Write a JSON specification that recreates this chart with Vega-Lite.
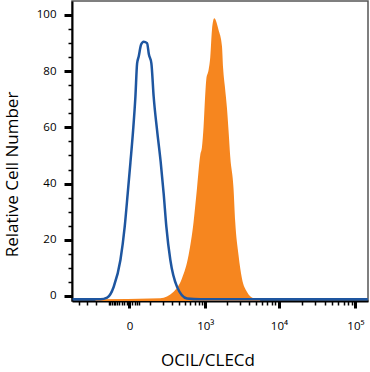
{
  "$schema": "https://vega.github.io/schema/vega-lite/v6.json",
  "width": 296,
  "height": 300,
  "autosize": "none",
  "padding": {"left": 72, "top": 1, "right": 2, "bottom": 71},
  "config": {
    "view": {"stroke": "#555555", "strokeWidth": 1.5},
    "font": "Open Sans",
    "axis": {"grid": false}
  },
  "datasets": {
    "control": [
      {"x": -517, "y": -1.2}, {"x": -158.7, "y": -1.2}, {"x": -109, "y": -0.6},
      {"x": -68.9, "y": 3.3}, {"x": -35.5, "y": 12.8}, {"x": -17.4, "y": 24.7},
      {"x": -6, "y": 36.5}, {"x": 3.5, "y": 47.5}, {"x": 13.5, "y": 59},
      {"x": 22.6, "y": 70.9}, {"x": 29.8, "y": 82.8}, {"x": 36.9, "y": 85.2},
      {"x": 48.2, "y": 89.5}, {"x": 61.3, "y": 90.5}, {"x": 80.2, "y": 90},
      {"x": 91, "y": 86}, {"x": 107, "y": 82.8}, {"x": 122.8, "y": 70.9},
      {"x": 148.2, "y": 59}, {"x": 178.1, "y": 47.8}, {"x": 205.6, "y": 36.5},
      {"x": 232.6, "y": 24.7}, {"x": 276.8, "y": 12.8}, {"x": 363.6, "y": 3.3},
      {"x": 530.5, "y": -0.9}, {"x": 845.6, "y": -1.2}, {"x": 145000, "y": -1.2}
    ],
    "stained": [
      {"x": -202.8, "y": -1.2}, {"x": 175.5, "y": -0.8}, {"x": 317.4, "y": 1.5},
      {"x": 440.8, "y": 6.3}, {"x": 562.1, "y": 14.6}, {"x": 671.3, "y": 26.4},
      {"x": 755.3, "y": 38.3}, {"x": 845.6, "y": 50.2}, {"x": 895.6, "y": 53},
      {"x": 945, "y": 60.2}, {"x": 1000.4, "y": 72}, {"x": 1034, "y": 77},
      {"x": 1116, "y": 80.4}, {"x": 1180, "y": 85}, {"x": 1248, "y": 94.7},
      {"x": 1345, "y": 98.8}, {"x": 1545, "y": 94.7}, {"x": 1723, "y": 89},
      {"x": 1790, "y": 81}, {"x": 1900, "y": 74}, {"x": 2019, "y": 67},
      {"x": 2123, "y": 59}, {"x": 2240, "y": 49.6}, {"x": 2484, "y": 38.3},
      {"x": 2620, "y": 26.4}, {"x": 2903, "y": 14.6}, {"x": 3226, "y": 6.3},
      {"x": 3765, "y": 1.5}, {"x": 4611, "y": -0.8}, {"x": 5658, "y": -1.2}
    ]
  },
  "layer": [
    {
      "data": {"name": "stained"},
      "mark": {"type": "area", "color": "#f6861f", "interpolate": "monotone"},
      "encoding": {
        "x": {
          "field": "x", "type": "quantitative",
          "scale": {"type": "symlog", "constant": 115, "domain": [-527, 145800], "nice": false, "zero": false},
          "axis": {
            "orient": "bottom",
            "values": [0, 1000, 10000, 100000],
            "labelExpr": "datum.value == 0 ? '0' : datum.value == 1000 ? '10³' : datum.value == 10000 ? '10⁴' : '10⁵'",
            "tickSize": 7, "tickWidth": 3, "tickColor": "black",
            "domainColor": "black", "domainWidth": 2,
            "labelFontSize": 11.5, "labelColor": "black", "labelPadding": 12,
            "labelFlush": false, "labelOverlap": false,
            "title": "OCIL/CLECd", "titleFontSize": 17, "titleFontWeight": "normal", "titleColor": "black",
            "titleX": 135.5, "titleY": 59, "titleBaseline": "middle", "titleAlign": "center"
          }
        },
        "y": {
          "field": "y", "type": "quantitative",
          "scale": {"domain": [-1.78, 104.98], "nice": false, "zero": false},
          "axis": {
            "orient": "left",
            "values": [0, 20, 40, 60, 80, 100],
            "tickSize": 8, "tickWidth": 3, "tickColor": "black",
            "domainColor": "black", "domainWidth": 2,
            "labelFontSize": 11.5, "labelColor": "black", "labelPadding": 8,
            "title": "Relative Cell Number", "titleFontSize": 17, "titleFontWeight": "normal", "titleColor": "black",
            "titleX": -60, "titleY": 173, "titleAngle": -90, "titleBaseline": "middle", "titleAlign": "center"
          }
        },
        "y2": {"datum": -1.78}
      }
    },
    {
      "data": {"name": "control"},
      "mark": {"type": "line", "color": "#1e56a0", "strokeWidth": 2.5, "interpolate": "monotone"},
      "encoding": {
        "x": {
          "field": "x", "type": "quantitative",
          "scale": {"type": "symlog", "constant": 115, "domain": [-527, 145800], "nice": false, "zero": false},
          "axis": {
            "orient": "bottom",
            "values": [-400, -300, -200, -100, -90, -80, -70, -60, -50, -40, -30, -20, -10, 10, 20, 30, 40,
                       100, 200, 300, 400, 500, 600, 700, 800, 900,
                       2000, 3000, 4000, 5000, 6000, 7000, 8000, 9000,
                       20000, 30000, 40000, 50000, 60000, 70000, 80000, 90000],
            "tickSize": 4, "tickWidth": 1.5, "tickColor": "black",
            "labels": false, "domain": false, "title": null
          }
        },
        "y": {
          "field": "y", "type": "quantitative",
          "scale": {"domain": [-1.78, 104.98], "nice": false, "zero": false},
          "axis": {
            "orient": "left",
            "values": [5, 10, 15, 25, 30, 35, 45, 50, 55, 65, 70, 75, 85, 90, 95],
            "tickSize": 4, "tickWidth": 1.5, "tickColor": "black",
            "labels": false, "domain": false, "title": null
          }
        }
      }
    }
  ],
  "resolve": {"axis": {"x": "independent", "y": "independent"}}
}
